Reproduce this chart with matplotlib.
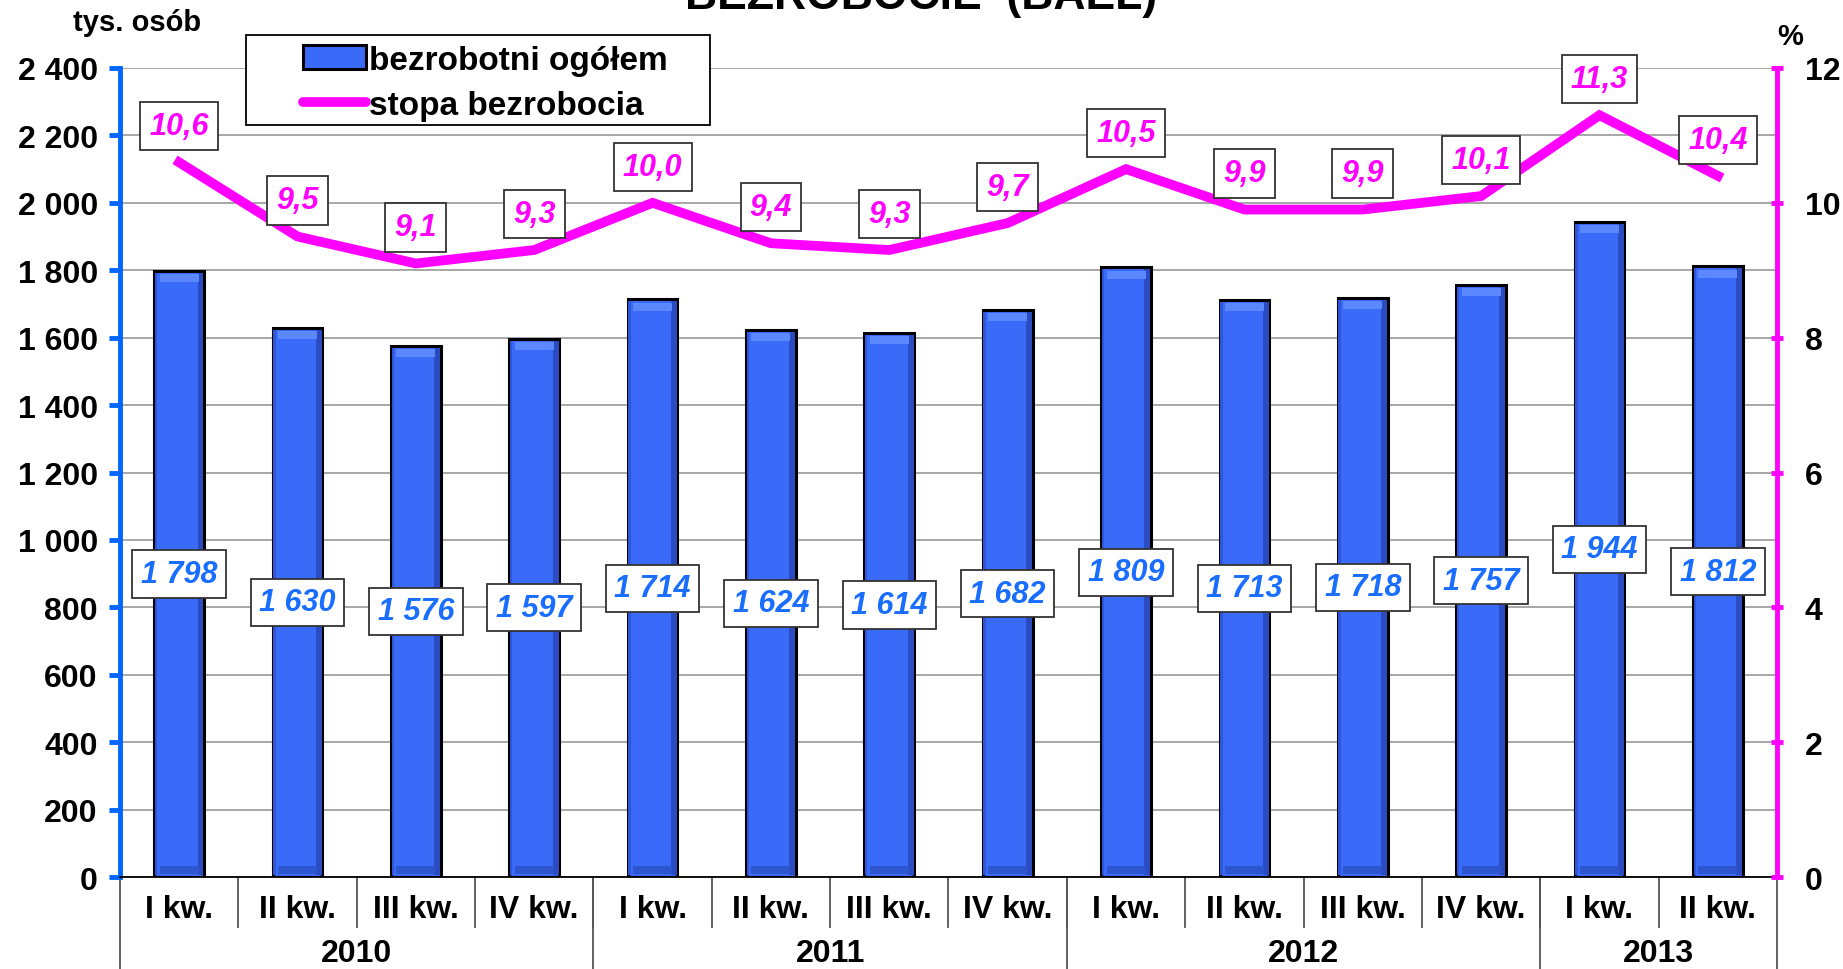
# -*- coding: utf-8 -*-
'''Bezrobocie (BAEL) - słupki + stopa bezrobocia'''
import matplotlib.pyplot as plt
import matplotlib.lines as mlines
import numpy as np

# dane
kwartaly = ['I kw.', 'II kw.', 'III kw.', 'IV kw.',
            'I kw.', 'II kw.', 'III kw.', 'IV kw.',
            'I kw.', 'II kw.', 'III kw.', 'IV kw.',
            'I kw.', 'II kw.']
lata = ['2010', '2011', '2012', '2013']
kw_w_roku = [4, 4, 4, 2]
bezrobotni = [1798, 1630, 1576, 1597, 1714, 1624, 1614, 1682,
              1809, 1713, 1718, 1757, 1944, 1812]
stopa = [10.6, 9.5, 9.1, 9.3, 10.0, 9.4, 9.3, 9.7,
         10.5, 9.9, 9.9, 10.1, 11.3, 10.4]

NIEB = '#0066ff'
MAG = '#ff00ff'
SLUP = '#3a6af8'
plt.rcParams['font.family'] = ['Liberation Sans', 'DejaVu Sans']
plt.rcParams['font.weight'] = 'bold'

fig = plt.figure(figsize=(18.43, 9.70), dpi=100)
ax = fig.add_axes([0.0651, 0.0948, 0.8991, 0.8341])
ax2 = ax.twinx()

x = np.arange(len(bezrobotni))
w = 0.42

# słupki (z lekkim efektem wypukłości)
ax.bar(x, bezrobotni, width=w, color=SLUP, edgecolor='black',
       linewidth=2.2, zorder=2)
ax.bar(x + w / 2 - 0.03, np.array(bezrobotni) - 12, bottom=6, width=0.05,
       color='#2a4cc0', linewidth=0, zorder=2.1)
ax.bar(x - w / 2 + 0.015, np.array(bezrobotni) - 12, bottom=6, width=0.02,
       color='#2f56d8', linewidth=0, zorder=2.1)
ax.bar(x, 24, bottom=np.array(bezrobotni) - 34, width=w - 0.09,
       color='#5c88ff', linewidth=0, zorder=2.1)
ax.bar(x, 24, bottom=8, width=w - 0.09, color='#2d55d0', linewidth=0, zorder=2.1)

ax.set_xlim(-0.5, len(x) - 0.5)
ax.set_ylim(0, 2400)
ax.set_yticks(np.arange(0, 2401, 200))
ax.set_yticklabels(['{:,}'.format(v).replace(',', ' ') for v in range(0, 2401, 200)])
ax.yaxis.grid(True, color='#a0a0a0', linewidth=1.3)
ax.set_axisbelow(True)

for xi, v in zip(x, bezrobotni):
    ax.text(xi, v / 2, '{:,}'.format(v).replace(',', ' '),
            ha='center', va='center', fontsize=22, color='#1a6eff',
            style='italic', weight='bold',
            bbox=dict(boxstyle='square,pad=0.28', fc='white', ec='#333333', lw=1.3),
            zorder=5)

# linia stopy bezrobocia
ax2.plot(x, stopa, color=MAG, linewidth=7, zorder=3, solid_joinstyle='miter')
ax2.set_ylim(0, 12)
ax2.set_yticks(np.arange(0, 13, 2))
for xi, s in zip(x, stopa):
    ax2.annotate('{:.1f}'.format(s).replace('.', ','), (xi, s),
                 xytext=(0, 26), textcoords='offset points',
                 ha='center', va='center', fontsize=22, color=MAG,
                 style='italic', weight='bold',
                 bbox=dict(boxstyle='square,pad=0.3', fc='white', ec='#333333', lw=1.3),
                 zorder=6)

# osie
for a in (ax, ax2):
    a.spines['top'].set_visible(False)
ax.spines['left'].set_color(NIEB)
ax.spines['left'].set_linewidth(3.5)
ax.spines['right'].set_visible(False)
ax2.spines['left'].set_visible(False)
ax2.spines['right'].set_color(MAG)
ax2.spines['right'].set_linewidth(3.5)
ax.spines['bottom'].set_color('black')
ax.spines['bottom'].set_linewidth(1.3)
ax2.spines['bottom'].set_visible(False)

ax.tick_params(axis='y', colors=NIEB, width=3.5, length=8, labelsize=23,
               labelcolor='black', pad=8)
ax2.tick_params(axis='y', colors=MAG, width=3.5, length=8, direction='inout',
                labelsize=23, labelcolor='black', pad=16)

# oś kategorii dwupoziomowa
ax.set_xticks(x)
ax.set_xticklabels(kwartaly, fontsize=23)
ax.tick_params(axis='x', length=0, pad=12)
tr = ax.get_xaxis_transform()
for b in np.arange(0.5, len(x) - 1, 1.0):
    ax.add_line(mlines.Line2D([b, b], [0, -0.062], transform=tr, color='#555555',
                              lw=1.3, clip_on=False))
granice = np.concatenate([[0], np.cumsum(kw_w_roku)]) - 0.5
for b in granice:
    ax.add_line(mlines.Line2D([b, b], [0, -0.114], transform=tr, color='#555555',
                              lw=1.3, clip_on=False))
for rok, g0, g1 in zip(lata, granice[:-1], granice[1:]):
    ax.text((g0 + g1) / 2, -0.094, rok, transform=tr, ha='center', va='center',
            fontsize=23, weight='bold')

# opisy osi
fig.text(0.0395, 0.976, 'tys. osób', ha='left', va='center', fontsize=21, weight='bold')
fig.text(0.9712, 0.962, '%', ha='center', va='center', fontsize=21, weight='bold')
fig.text(0.5, 0.991, 'BEZROBOCIE  (BAEL)', ha='center', va='baseline',
         fontsize=32, weight='bold')

# legenda - ramka rysowana osobno (duże marginesy jak w oryginale)
fig.patches.append(plt.Rectangle((0.1335, 0.870), 0.2518, 0.0928,
                                 transform=fig.transFigure, fc='white',
                                 ec='black', lw=1.3, zorder=4))
h1 = plt.Rectangle((0, 0), 1, 1, fc=SLUP, ec='black', lw=2.2)
h2 = mlines.Line2D([], [], color=MAG, lw=7, solid_capstyle='round')
leg = fig.legend([h1, h2], ['bezrobotni ogółem', 'stopa bezrobocia'],
                 loc='upper left', bbox_to_anchor=(0.1644, 0.953),
                 fontsize=24, frameon=False, handlelength=1.9,
                 handletextpad=0.08, borderpad=0, labelspacing=0.42,
                 borderaxespad=0)
leg.set_zorder(5)
for t in leg.get_texts():
    t.set_weight('bold')

plt.savefig('out.png', dpi=100)
